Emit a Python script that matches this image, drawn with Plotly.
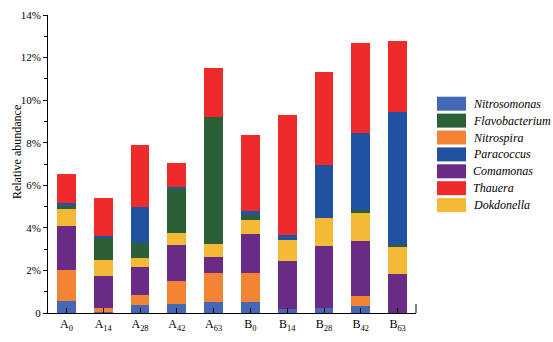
import plotly.graph_objects as go

categories = ["A<sub>0</sub>", "A<sub>14</sub>", "A<sub>28</sub>", "A<sub>42</sub>", "A<sub>63</sub>",
              "B<sub>0</sub>", "B<sub>14</sub>", "B<sub>28</sub>", "B<sub>42</sub>", "B<sub>63</sub>"]

# segment heights (%), stacked bottom -> top
nitrosomonas   = [0.56, 0.06, 0.39, 0.44, 0.53, 0.50, 0.19, 0.22, 0.34, 0.00]
nitrospira     = [1.44, 0.17, 0.46, 1.06, 1.36, 1.36, 0.00, 0.00, 0.46, 0.00]
comamonas      = [2.08, 1.51, 1.32, 1.68, 0.72, 1.83, 2.27, 2.94, 2.58, 1.82]
dokdonella     = [0.80, 0.76, 0.41, 0.59, 0.64, 0.68, 0.97, 1.28, 1.33, 1.26]
flavobacterium = [0.14, 1.07, 0.72, 2.04, 5.94, 0.23, 0.00, 0.00, 0.14, 0.10]
paracoccus     = [0.13, 0.03, 1.66, 0.12, 0.00, 0.17, 0.25, 2.51, 3.59, 6.24]
thauera        = [1.38, 1.78, 2.91, 1.10, 2.31, 3.60, 5.60, 4.36, 4.25, 3.38]

stack_order = [
    ("Nitrosomonas", nitrosomonas, "#4468B6"),
    ("Nitrospira", nitrospira, "#F28434"),
    ("Comamonas", comamonas, "#6A2B86"),
    ("Dokdonella", dokdonella, "#F4B936"),
    ("Flavobacterium", flavobacterium, "#2B5F36"),
    ("Paracoccus", paracoccus, "#2152A2"),
    ("Thauera", thauera, "#EE2A2B"),
]
legend_order = ["Nitrosomonas", "Flavobacterium", "Nitrospira", "Paracoccus",
                "Comamonas", "Thauera", "Dokdonella"]

y_tickvals = [0, 2, 4, 6, 8, 10, 12, 14]
y_ticktext = ["0", "2%", "4%", "6%", "8%", "10%", "12%", "14%"]

FONT = "Times New Roman, Liberation Serif, DejaVu Serif, serif"

fig = go.Figure()
colors = {}
for name, vals, col in stack_order:
    colors[name] = col
    fig.add_trace(go.Bar(x=categories, y=vals, name=name, marker_color=col,
                         marker_line_width=0, showlegend=False, hoverinfo="skip"))

fig.update_layout(
    barmode="stack", bargap=0.49,
    width=553, height=342,
    margin=dict(l=48, r=137, t=15, b=29, autoexpand=False),
    plot_bgcolor="white", paper_bgcolor="white",
    font=dict(family=FONT, size=11, color="black"),
)
fig.update_xaxes(showline=True, linecolor="black", linewidth=1,
                 ticks="inside", ticklen=5, tickcolor="black",
                 tickfont=dict(size=12, family=FONT), showgrid=False, automargin=False)
fig.update_yaxes(range=[0, 14], showline=True, linecolor="black", linewidth=1,
                 ticks="outside", ticklen=4, tickcolor="black",
                 tickvals=y_tickvals, ticktext=y_ticktext,
                 minor=dict(dtick=1, ticks="outside", ticklen=3, tickcolor="black"),
                 showgrid=False, zeroline=False, tickfont=dict(size=11, family=FONT),
                 automargin=False)

# small end tick at right of x axis
fig.add_shape(type="line", xref="paper", yref="paper", x0=1, x1=1, y0=0, y1=0.03,
              line=dict(color="black", width=1))

# y-axis title
fig.add_annotation(text="Relative abundance", xref="paper", yref="paper",
                   x=0, y=0.54, xshift=-31, textangle=-90, showarrow=False,
                   font=dict(size=12, family=FONT), xanchor="center", yanchor="middle")

# custom legend
pw, ph = 553 - 48 - 137, 342 - 15 - 29
for i, name in enumerate(legend_order):
    yc = 103.7 + i * 16.9
    y0 = 1 - ((yc - 7) - 15) / ph
    y1 = 1 - ((yc + 7) - 15) / ph
    x0 = (437 - 48) / pw
    x1 = (466 - 48) / pw
    fig.add_shape(type="rect", xref="paper", yref="paper", x0=x0, x1=x1, y0=y1, y1=y0,
                  fillcolor=colors[name], line=dict(width=0))
    fig.add_annotation(text="<i>%s</i>" % name, xref="paper", yref="paper",
                       x=(471 - 48) / pw, y=1 - (yc - 15) / ph, xanchor="left",
                       yanchor="middle", showarrow=False,
                       font=dict(size=12, family=FONT))

fig.write_html("out.html", config={"displayModeBar": False},
               post_script="document.body.style.margin='0px';")
